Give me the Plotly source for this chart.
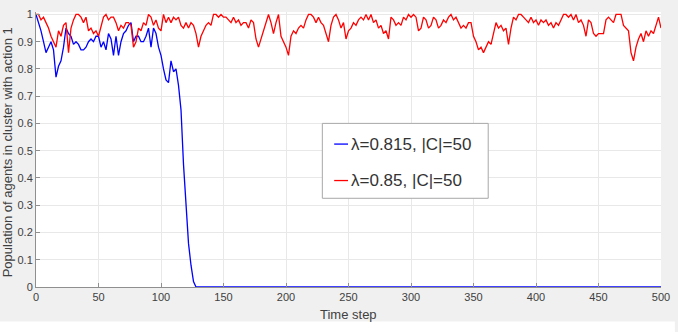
import plotly.graph_objects as go

# ---- data ----
time_red = list(range(0, 501, 2))
red_vals = [
    1.0, 1.0, 0.98, 0.99, 0.97, 0.95, 0.92, 0.90, 0.88, 0.94,
    0.92, 0.96, 0.97, 0.86, 0.95, 0.98, 1.0, 1.0, 0.99, 0.97,
    0.99, 0.94, 0.95, 0.93, 0.94, 0.92, 0.96, 0.99, 1.0, 0.98,
    0.99, 0.99, 0.97, 0.94, 0.96, 0.95, 0.97, 0.97, 0.96, 0.88,
    0.90, 0.95, 0.94, 0.97, 0.96, 1.0, 0.99, 0.96, 0.98, 0.95,
    0.94, 1.0, 0.97, 0.99, 0.97, 0.99, 0.98, 0.99, 0.96, 0.95,
    0.97, 0.95, 0.97, 0.96, 0.93, 0.88, 0.92, 0.94, 0.96, 0.97,
    0.96, 1.0, 1.0, 0.99, 1.0, 0.99, 0.99, 0.98, 0.97, 0.99,
    0.97, 0.98, 0.96, 0.97, 0.97, 0.95, 0.98, 0.97, 0.91, 0.88,
    0.91, 0.94, 0.97, 1.0, 0.97, 0.93, 0.97, 1.0, 0.92, 0.90,
    0.88, 0.85, 0.92, 0.94, 0.93, 0.95, 0.96, 0.95, 0.98, 1.0,
    1.0, 0.99, 0.97, 0.99, 0.97, 0.96, 0.93, 0.90, 0.96, 0.99,
    1.0, 0.98, 0.95, 0.97, 0.91, 0.94, 0.95, 0.97, 0.96, 0.98,
    0.99, 0.98, 1.0, 0.98, 1.0, 0.97, 0.98, 0.95, 0.96, 0.93,
    0.94, 0.91, 0.99, 0.98, 0.96, 0.97, 0.96, 0.99, 0.98, 1.0,
    0.99, 1.0, 0.99, 0.94, 0.95, 0.99, 0.98, 0.95, 0.96, 0.99,
    0.98, 0.95, 0.96, 0.98, 0.97, 0.99, 1.0, 0.98, 0.99, 0.97,
    0.95, 0.96, 0.95, 0.97, 0.97, 0.92, 0.90, 0.87, 0.88, 0.86,
    0.88, 0.90, 0.89, 0.93, 0.97, 0.95, 0.96, 0.94, 0.95, 0.89,
    0.95, 0.99, 0.98, 1.0, 1.0, 0.99, 0.98, 0.97, 0.99, 0.97,
    0.98, 0.96, 0.98, 0.97, 0.98, 0.96, 0.97, 0.95, 0.97, 0.96,
    0.98, 1.0, 1.0, 0.99, 1.0, 0.98, 1.0, 0.97, 0.98, 0.96,
    0.92, 0.98, 0.97, 0.93, 0.92, 0.93, 0.93, 0.93, 0.98, 0.99,
    0.98, 0.97, 1.0, 1.0, 1.0, 0.96, 0.95, 0.94, 0.86, 0.83,
    0.88, 0.91, 0.93, 0.90, 0.94, 0.92, 0.94, 0.93, 0.96, 0.99,
    0.95,
]

time_blue = list(range(0, 129, 2)) + [500]
blue_vals = [
    1.0, 0.97, 0.94, 0.90, 0.86, 0.88, 0.90, 0.87, 0.77, 0.81,
    0.83, 0.88, 0.95, 0.93, 0.92, 0.89, 0.90, 0.89, 0.87, 0.87,
    0.88, 0.90, 0.91, 0.90, 0.92, 0.92, 0.88, 0.90, 0.87, 0.93,
    0.91, 0.85, 0.92, 0.85, 0.90, 0.93, 0.94, 0.96, 0.97, 0.90,
    0.92, 0.92, 0.90, 0.90, 0.92, 0.95, 0.88, 0.95, 0.93, 0.88,
    0.85, 0.80, 0.76, 0.75, 0.83, 0.79, 0.80, 0.74, 0.65, 0.45,
    0.28, 0.16, 0.08, 0.02, 0.0, 0.0,
]

series_names = ["λ=0.815, |C|=50", "λ=0.85, |C|=50"]
series_colors = ["#0000ff", "#ff0000"]
x_ticks = [0, 50, 100, 150, 200, 250, 300, 350, 400, 450, 500]
y_ticks = [0, 0.1, 0.2, 0.3, 0.4, 0.5, 0.6, 0.7, 0.8, 0.9, 1]
x_title = "Time step"
y_title = "Population of agents in cluster with action 1"

# ---- figure ----
W, H = 678, 332
ML, MR, MT, MB = 36, 9, 8, 45
pw, ph = W - ML - MR, H - MT - MB

def px2paper_x(px):
    return (px - ML) / pw

def px2paper_y(py):
    return (H - MB - py) / ph

FONT = "Liberation Sans, Arial, sans-serif"

fig = go.Figure()
fig.add_trace(go.Scatter(x=time_blue, y=blue_vals, mode="lines", name=series_names[0],
                         line=dict(color=series_colors[0], width=1.3), showlegend=False))
fig.add_trace(go.Scatter(x=time_red, y=red_vals, mode="lines", name=series_names[1],
                         line=dict(color=series_colors[1], width=1.3), showlegend=False))

axis_col = "#8f8f8f"
grid_col = "#e8e8e8"
tick_font = dict(family=FONT, size=11, color="#404040")

fig.update_xaxes(range=[0, 500], tickvals=x_ticks, ticktext=[str(v) for v in x_ticks],
                 showgrid=True, gridcolor=grid_col, gridwidth=1,
                 showline=True, linecolor=axis_col, linewidth=1,
                 ticks="inside", ticklen=4, tickcolor=axis_col,
                 tickfont=tick_font, zeroline=False, ticklabeloverflow="allow")
fig.update_yaxes(range=[0, 1.009], tickvals=y_ticks, ticktext=[f"{v:g}" for v in y_ticks],
                 showgrid=True, gridcolor=grid_col, gridwidth=1,
                 showline=True, linecolor=axis_col, linewidth=1,
                 ticks="inside", ticklen=4, tickcolor=axis_col,
                 tickfont=tick_font, zeroline=False, ticklabeloverflow="allow")

shapes = []
annotations = []
# white strip at the bottom of the figure
shapes.append(dict(type="rect", xref="paper", yref="paper",
                   x0=px2paper_x(-5), x1=px2paper_x(W + 5),
                   y0=px2paper_y(322), y1=px2paper_y(H + 5),
                   fillcolor="white", line=dict(width=0), layer="below"))

# legend box
lx0, lx1, ly0, ly1 = 326, 494, 121, 197
shapes.append(dict(type="rect", xref="paper", yref="paper",
                   x0=px2paper_x(lx0), x1=px2paper_x(lx1),
                   y0=px2paper_y(ly1), y1=px2paper_y(ly0),
                   fillcolor="white", line=dict(color="#a8a8a8", width=1), layer="above"))
rows_y = [142, 179]
for name, col, ry in zip(series_names, series_colors, rows_y):
    shapes.append(dict(type="line", xref="paper", yref="paper",
                       x0=px2paper_x(338), x1=px2paper_x(352),
                       y0=px2paper_y(ry), y1=px2paper_y(ry),
                       line=dict(color=col, width=1.3), layer="above"))
    annotations.append(dict(text=name, xref="paper", yref="paper",
                            x=px2paper_x(353), y=px2paper_y(ry),
                            xanchor="left", yanchor="middle", showarrow=False,
                            font=dict(family=FONT, size=17, color="#333333")))

# axis titles
annotations.append(dict(text=x_title, xref="paper", yref="paper",
                        x=0.5, y=px2paper_y(315), xanchor="center", yanchor="middle",
                        showarrow=False,
                        font=dict(family=FONT, size=13, color="#404040")))
annotations.append(dict(text=y_title, xref="paper", yref="paper",
                        x=px2paper_x(8), y=px2paper_y(150), xanchor="center", yanchor="middle",
                        textangle=-90, showarrow=False,
                        font=dict(family=FONT, size=13, color="#404040")))

fig.update_layout(width=W, height=H, margin=dict(l=ML, r=MR, t=MT, b=MB, pad=0),
                  paper_bgcolor="#f0f0f0", plot_bgcolor="white",
                  shapes=shapes, annotations=annotations, showlegend=False)

fig.write_html("out.html")
